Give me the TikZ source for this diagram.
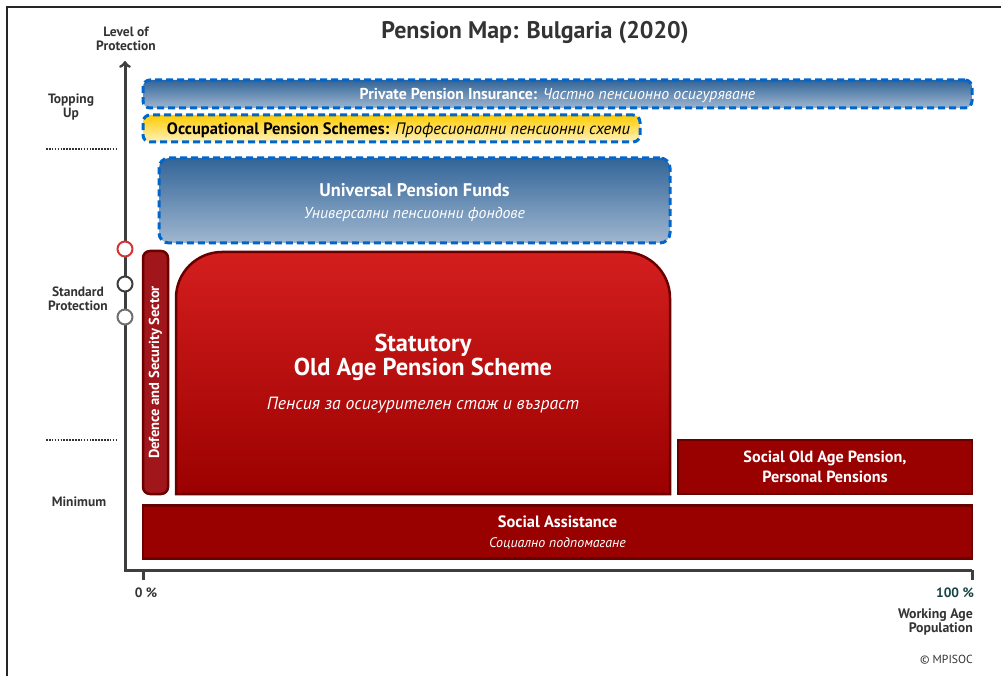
\documentclass[tikz,border=0pt]{standalone}
\usepackage{fontspec}
\setmainfont{PT Sans}
\usetikzlibrary{arrows, positioning, calc}

\definecolor{axisgray}{RGB}{62,62,62}
\definecolor{labelgray}{RGB}{51,51,51}
\definecolor{dashblue}{RGB}{0,102,204}
\definecolor{pdarkblue}{RGB}{50,100,152}
\definecolor{pmidblue}{RGB}{108,140,180}
\definecolor{plightblue}{RGB}{160,183,208}
\definecolor{occyellow}{RGB}{255,204,0}
\definecolor{occlight}{RGB}{255,242,190}
\definecolor{statred}{RGB}{212,30,30}
\definecolor{statdark}{RGB}{155,0,0}
\definecolor{boxred}{RGB}{153,0,0}
\definecolor{edgered}{RGB}{105,0,0}
\definecolor{defred}{RGB}{160,22,26}
\definecolor{circred}{RGB}{214,52,52}
\definecolor{circgray}{RGB}{112,112,112}
\definecolor{tealtext}{RGB}{22,68,68}

\tikzset{
  axislabel/.style={font=\bfseries\fontsize{13.5}{13.5}\selectfont, text=labelgray, align=center, inner sep=0pt},
  dashbar/.style={draw=dashblue, line width=3pt, dash pattern=on 7pt off 4pt, rounded corners=7pt, inner sep=0pt, text depth=0pt},
  redbox/.style={draw=edgered, line width=2.5pt, fill=boxred, text=white, align=center, inner sep=0pt, text depth=0pt},
  axiscircle/.style={circle, line width=2pt, fill=white, minimum size=15pt, inner sep=0pt},
  levelline/.style={labelgray, line width=1.6pt, dash pattern=on 1.6pt off 1.3pt}
}

\begin{document}
\begin{tikzpicture}[x=1pt, y=-1pt]
\useasboundingbox (0,0) rectangle (1001,676);
% frame
\draw[line width=1.2pt, black!85] (7,676) -- (7,7) -- (1001,7);

% Title
\node[font=\bfseries\fontsize{24}{28}\selectfont, text=labelgray] (title) at (535,33) {Pension Map: Bulgaria (2020)};

% Axes
\coordinate (origin) at (125,570);
\coordinate (ytop) at (125,61);
\coordinate (xend) at (972,570);
\coordinate (xzero) at (143,570);
\draw[axisgray, line width=3pt, <-] (ytop) -- (origin) -- (xend);
\draw[axisgray, line width=3pt] (xzero) -- ($(xzero)+(0,10)$);
\draw[axisgray, line width=3pt] (xend) -- ($(xend)+(0,10)$);

% Level markers on the axis
\node[axiscircle, draw=circred] (cred) at (125,249) {};
\node[axiscircle, draw=axisgray] (cdark) at (125,284) {};
\node[axiscircle, draw=circgray] (cgray) at (125,317) {};

% Axis labels
\node[axislabel] (ylabel) at (126,39) {Level of\\Protection};
\node[axislabel] (topup) at (71,107) {Topping\\Up};
\node[axislabel] (stdprot) at (78,299) {Standard\\Protection};
\node[axislabel] (minimum) at (79,502) {Minimum};
\node[axislabel] (zero) at (146,593) {0 \%};
\node[axislabel, text=tealtext] (hundred) at (955,593) {100 \%};
\node[axislabel, anchor=east, align=right, font=\bfseries\fontsize{13.8}{14}\selectfont] (xlabel) at (973,622) {Working Age\\Population};
\node[font=\fontsize{11.7}{13}\selectfont, text=labelgray, anchor=east, inner sep=0pt] (copy) at (973,660) {\textcopyright{} MPISOC};

% Dotted separators
\coordinate (upl) at (46,149);
\coordinate (upr) at (116,149);
\coordinate (lowl) at (46,440);
\coordinate (lowr) at (116,440);
\draw[levelline] (upl) -- (upr);
\draw[levelline] (lowl) -- (lowr);

% Topping up
\node[dashbar, top color=pdarkblue, bottom color=plightblue, minimum width=829pt, minimum height=28pt, text=white, font=\fontsize{15.8}{17}\selectfont] (private) at (557.5,94) {\textbf{Private Pension Insurance:} \textit{Частно пенсионно осигуряване}};
\node[dashbar, top color=occyellow, bottom color=occlight, minimum width=497pt, minimum height=27pt, font=\fontsize{16.5}{18}\selectfont] (occup) at (391.5,128.5) {\hspace*{14pt}\textbf{Occupational Pension Schemes:} \textit{Професионални пенсионни схеми}};
\node[dashbar, rounded corners=10pt, top color=pdarkblue, middle color=pmidblue, bottom color=plightblue, minimum width=511pt, minimum height=85pt, text=white, align=center, font=\fontsize{15.8}{22}\selectfont] (universal) at (414.5,200.5) {{\bfseries\fontsize{18.3}{20}\selectfont Universal Pension Funds}\\{\itshape Универсални пенсионни фондове}};

% Standard protection
\node[redbox, fill=defred, rounded corners=7pt, rotate=90, minimum width=243pt, minimum height=25pt, font=\bfseries\fontsize{14.5}{16}\selectfont, text depth=] (defence) at (155.5,372.5) {Defence and Security Sector};
\path[draw=edgered, line width=2.5pt, top color=statred, middle color=statred!75!statdark, bottom color=statdark] (176,494) -- (176,298) arc[start angle=180, end angle=270, radius=46] -- (624,252) arc[start angle=270, end angle=360, radius=46] -- (670,494) -- cycle;
\node[text=white, align=center, font=\bfseries\fontsize{24.4}{24}\selectfont] (statutory) at (423,357) {Statutory\\Old Age Pension Scheme};
\node[text=white, font=\itshape\fontsize{17.7}{20}\selectfont] (statbg) at (423,405) {Пенсия за осигурителен стаж и възраст};

% Minimum
\node[redbox, minimum width=294pt, minimum height=54pt, font=\bfseries\fontsize{16.2}{20}\selectfont] (socialold) at (825,467) {Social Old Age Pension,\\Personal Pensions};
\node[redbox, minimum width=829pt, minimum height=53pt, font=\fontsize{13.9}{20}\selectfont] (socialassist) at (557.5,532) {{\bfseries\fontsize{16.4}{18}\selectfont Social Assistance}\\{\itshape Социално подпомагане}};
\end{tikzpicture}
\end{document}
